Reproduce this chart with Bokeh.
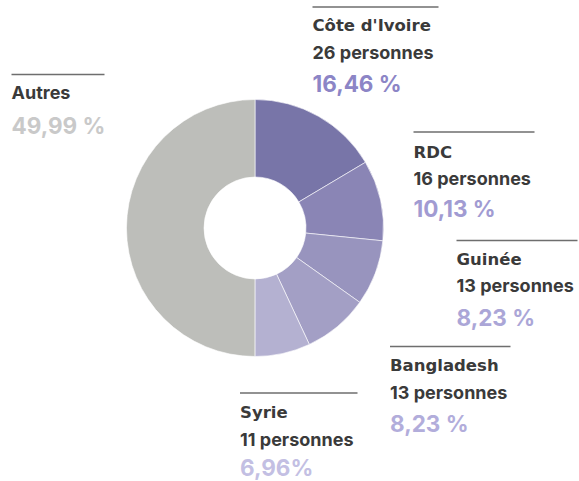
import numpy as np
from bokeh.plotting import figure
from bokeh.models import ColumnDataSource, Range1d
from bokeh.core.properties import value
from bokeh.embed import file_html
from bokeh.resources import INLINE

# ---- data ----
countries = ["Côte d'Ivoire", "RDC", "Guinée", "Bangladesh", "Syrie", "Autres"]
counts = [26, 16, 13, 13, 11, None]
percents = [16.46, 10.13, 8.23, 8.23, 6.96, 49.99]
pct_labels = ["16,46 %", "10,13 %", "8,23 %", "8,23 %", "6,96%", "49,99 %"]

# ---- styles ----
slice_colors = ["#7875A8", "#8A85B5", "#9894BE", "#A39FC5", "#B4B1D1", "#BDBEBA"]
pct_colors = ["#8C85C6", "#A19BD2", "#ABA6D7", "#B2ADDB", "#C3BFE3", "#C9C9C9"]
DARK = "#3A3A3A"

W, H = 579, 481

def Y(py):
    return H - py

def X(px):
    return px

# layout (page pixel positions)
lab_x = [312, 413, 456, 389.5, 239.5, 11]
rule_x1 = [438, 534, 577, 510, 357, 104]
rule_y = [6.5, 131.5, 240, 346, 392.5, 74]
name_y = [25, 152, 258.5, 364.5, 412, 92]
count_y = [52, 177.5, 285, 391.5, 439, None]
pct_y = [83, 208, 317, 423, 466.5, 125]

p = figure(width=W, height=H, output_backend="svg", toolbar_location=None,
           x_range=Range1d(0, W), y_range=Range1d(0, H),
           x_axis_type=None, y_axis_type=None, min_border=0)
p.outline_line_color = None
p.grid.visible = False
p.background_fill_color = "white"
p.border_fill_color = "white"

# donut
cum = np.concatenate([[0], np.cumsum(percents)])
start = np.pi / 2 - 2 * np.pi * cum[:-1] / sum(percents)
end = np.pi / 2 - 2 * np.pi * cum[1:] / sum(percents)
src = ColumnDataSource(dict(start=start, end=end, color=slice_colors))
p.annular_wedge(x=X(254.5), y=Y(227.5), inner_radius=51, outer_radius=128.5,
                start_angle="start", end_angle="end", direction="clock",
                fill_color="color", line_color="white", line_width=0.6, source=src)

# rules
p.segment(x0=[X(v) for v in lab_x], x1=[X(v) for v in rule_x1],
          y0=[Y(v) for v in rule_y], y1=[Y(v) for v in rule_y],
          line_color="#6E6E6E", line_width=1.5)

# names (heavy font for countries, semi-bold for Autres)
n = len(countries)
heavy = list(range(n - 1))
p.text(x=[X(lab_x[i]) for i in heavy], y=[Y(name_y[i]) for i in heavy],
       text=[countries[i] for i in heavy], text_font=value("DejaVu Sans"),
       text_font_style="bold", text_font_size="16.5px", text_color=DARK,
       text_baseline="middle", text_align="left")
p.text(x=[X(lab_x[5])], y=[Y(name_y[5])], text=[countries[5]],
       text_font=value("Inter"), text_font_style="bold", text_font_size="18px",
       text_color=DARK, text_baseline="middle", text_align="left")

# counts
ci = [i for i in range(n) if counts[i] is not None]
p.text(x=[X(lab_x[i]) for i in ci], y=[Y(count_y[i]) for i in ci],
       text=[f"{counts[i]} personnes" for i in ci], text_font=value("Inter"),
       text_font_style="bold", text_font_size="18px", text_color=DARK,
       text_baseline="middle", text_align="left")

# percentages
psrc = ColumnDataSource(dict(x=[X(v) for v in lab_x], y=[Y(v) for v in pct_y],
                             t=pct_labels, c=pct_colors))
p.text(x="x", y="y", text="t", text_color="c", source=psrc,
       text_font=value("Inter"), text_font_style="bold", text_font_size="22.5px",
       text_baseline="middle", text_align="left")

open("out.html", "w").write(file_html(p, INLINE))
